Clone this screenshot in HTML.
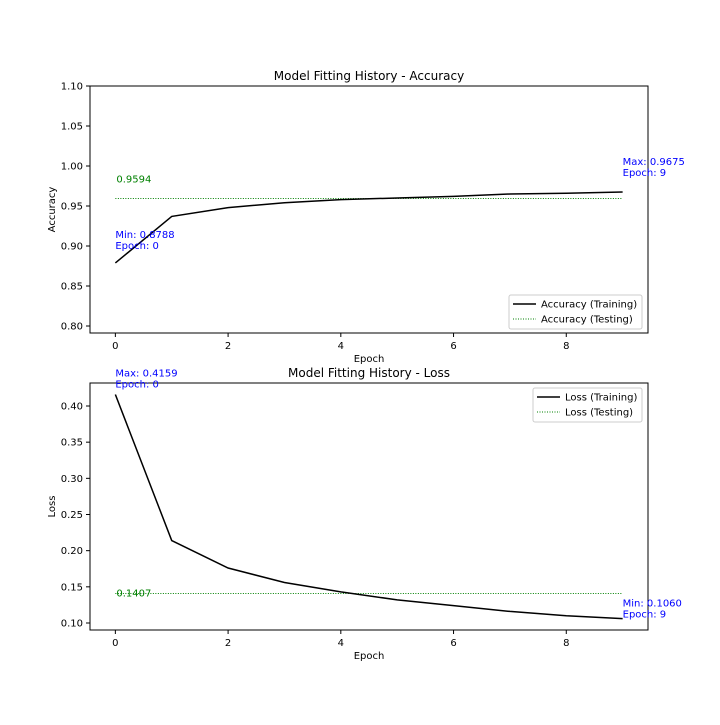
<!DOCTYPE html>
<html><head><meta charset="utf-8"><style>
body{margin:0;background:#fff}
svg{font-family:"DejaVu Sans","Liberation Sans",sans-serif}
</style></head><body>
<svg id="c" width="720" height="720" xmlns="http://www.w3.org/2000/svg"></svg>
<script>
const epochs=[0,1,2,3,4,5,6,7,8,9];
const accTrain=[0.8788,0.937,0.948,0.954,0.958,0.960,0.962,0.965,0.966,0.9675];
const accTest=0.9594;
const lossTrain=[0.4159,0.214,0.176,0.156,0.143,0.132,0.124,0.116,0.110,0.1060];
const lossTest=0.1407;
const accTicks=[0.80,0.85,0.90,0.95,1.00,1.05,1.10];
const lossTicks=[0.10,0.15,0.20,0.25,0.30,0.35,0.40];
const xTicks=[0,2,4,6,8];
const svg=document.getElementById('c');
const NS='http://www.w3.org/2000/svg';
function el(t,a,txt){const e=document.createElementNS(NS,t);for(const k in a)e.setAttribute(k,a[k]);if(txt!==undefined)e.textContent=txt;svg.appendChild(e);return e;}
function panel(o){
 const L=90,R=648,T=o.top,B=o.bottom;
 const x=v=>L+(v-(-0.45))/(9.9)*(R-L);
 const y=v=>B-(v-o.ymin)/(o.ymax-o.ymin)*(B-T);
 let e=el('rect',{x:L,y:T,width:R-L,height:B-T,fill:'none',stroke:'#000','stroke-width':1});
 
 o.ticks.forEach(t=>{const yy=y(t);
  e=el('line',{x1:L-4,x2:L,y1:yy,y2:yy,stroke:'#000'});
  e=el('text',{x:L-7,y:yy+3.5,'font-size':10,'text-anchor':'end'},t.toFixed(2));});
 xTicks.forEach(t=>{const xx=x(t);
  e=el('line',{x1:xx,x2:xx,y1:B,y2:B+4,stroke:'#000'});
  e=el('text',{x:xx,y:B+16,'font-size':10,'text-anchor':'middle'},t);});
 e=el('text',{x:(L+R)/2,y:B+29,'font-size':10,'text-anchor':'middle'},'Epoch');
 e=el('text',{x:55,y:(T+B)/2,'font-size':10,'text-anchor':'middle',transform:`rotate(-90 55 ${(T+B)/2})`},o.ylabel);
 e=el('text',{x:(L+R)/2,y:T-6,'font-size':12,'text-anchor':'middle'},o.title);
 e=el('line',{x1:x(0),x2:x(9),y1:y(o.test),y2:y(o.test),stroke:'green','stroke-width':1,'stroke-dasharray':'1,1.5'});
 e=el('polyline',{points:epochs.map((ep,i)=>x(ep)+','+y(o.train[i])).join(' '),fill:'none',stroke:'#000','stroke-width':1.5});
 e=el('text',{x:x(0)+1,y:o.testLabelY(y(o.test)),'font-size':10,fill:'green'},o.test.toFixed(4));
 o.annots.forEach(a=>{const i=a.i;const ax=x(epochs[i]);const ay=y(o.train[i])+a.dy;
  e=el('text',{x:ax,y:ay,'font-size':10,fill:'blue'},a.kind+': '+o.train[i].toFixed(4));
  e=el('text',{x:ax,y:ay+11,'font-size':10,fill:'blue'},'Epoch: '+epochs[i]);});
 const lx=o.legX,ly=o.legY,lw=R-6-lx;
 e=el('rect',{x:lx,y:ly,width:lw,height:34,rx:2,fill:'#fff',stroke:'#ccc'});
 e=el('line',{x1:lx+4,x2:lx+27,y1:ly+9,y2:ly+9,stroke:'#000','stroke-width':1.5});
 e=el('text',{x:lx+32,y:ly+12.5,'font-size':10},o.leg1);
 e=el('line',{x1:lx+4,x2:lx+27,y1:ly+24,y2:ly+24,stroke:'green','stroke-dasharray':'1,1.5'});
 e=el('text',{x:lx+32,y:ly+27.5,'font-size':10},o.leg2);
}
panel({id:'accuracy',top:86,bottom:333,ymin:0.80-7/800,ymax:1.10,ticks:accTicks,ylabel:'Accuracy',title:'Model Fitting History - Accuracy',train:accTrain,test:accTest,testLabelY:yy=>yy-16,
 annots:[{kind:'Min',i:0,dy:-25},{kind:'Max',i:9,dy:-27}],legX:509,legY:295,leg1:'Accuracy (Training)',leg2:'Accuracy (Testing)'});
panel({id:'loss',top:383,bottom:630,ymin:0.10-7/723.3,ymax:0.40+23/723.3,ticks:lossTicks,ylabel:'Loss',title:'Model Fitting History - Loss',train:lossTrain,test:lossTest,testLabelY:yy=>yy+3,
 annots:[{kind:'Max',i:0,dy:-18},{kind:'Min',i:9,dy:-12}],legX:533,legY:388,leg1:'Loss (Training)',leg2:'Loss (Testing)'});
</script>
</body></html>
